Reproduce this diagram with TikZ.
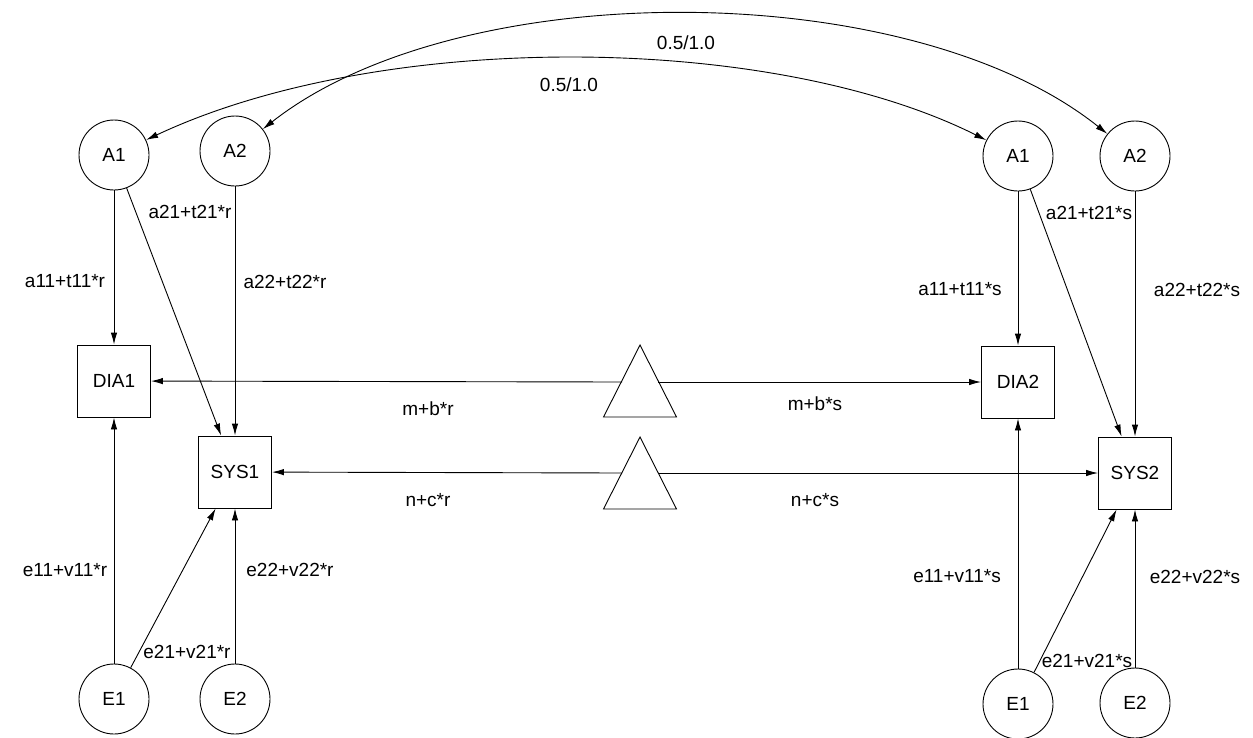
\documentclass[tikz,border=0pt]{standalone}
\usepackage{fontspec}
\setmainfont{Liberation Sans}
\usetikzlibrary{arrows.meta}
\begin{document}
\begin{tikzpicture}[x=1pt,y=-1pt,
  every node/.style={font=\fontsize{19}{21}\selectfont},
  circ/.style={circle,draw,minimum size=70pt,inner sep=0pt,line width=0.9pt},
  boxn/.style={rectangle,draw,minimum width=73pt,minimum height=72pt,inner sep=0pt,line width=0.9pt},
  con/.style={line width=0.9pt,-{Latex[length=12pt,width=6.5pt]}},
  bicon/.style={line width=0.9pt,{Latex[length=12pt,width=6.5pt]}-{Latex[length=12pt,width=6.5pt]}},
  tri/.style={line width=0.9pt,line join=miter},
  lbl/.style={inner sep=0pt}]
\useasboundingbox (0,0) rectangle (1253,737);
% left group
\node[circ] (A1L) at (114,155) {A1};
\node[circ] (A2L) at (235,151) {A2};
\node[boxn] (DIA1) at (114,381) {DIA1};
\node[boxn] (SYS1) at (235,472) {SYS1};
\node[circ] (E1L) at (114,699) {E1};
\node[circ] (E2L) at (235,699) {E2};
% right group
\node[circ] (A1R) at (1018,156) {A1};
\node[circ] (A2R) at (1135,156) {A2};
\node[boxn] (DIA2) at (1018,382) {DIA2};
\node[boxn] (SYS2) at (1135,473) {SYS2};
\node[circ] (E1R) at (1018,704) {E1};
\node[circ] (E2R) at (1135,703) {E2};
% triangles
\draw[tri] (640,345) -- (676.5,417) -- (603.5,417) -- cycle;
\draw[tri] (640,437) -- (676.5,509) -- (603.5,509) -- cycle;
\coordinate (T1l) at (622,382);
\coordinate (T1r) at (658,382);
\coordinate (T2l) at (622,473);
\coordinate (T2r) at (658,473);
% connectors
\draw[con] (A1L) -- (DIA1);
\draw[con] (A1L) -- (SYS1);
\draw[con] (A2L) -- (SYS1);
\draw[con] (E1L) -- (DIA1);
\draw[con] (E1L) -- (SYS1);
\draw[con] (E2L) -- (SYS1);
\draw[con] (A1R) -- (DIA2);
\draw[con] (A1R) -- (SYS2);
\draw[con] (A2R) -- (SYS2);
\draw[con] (E1R) -- (DIA2);
\draw[con] (E1R) -- (SYS2);
\draw[con] (E2R) -- (SYS2);
\draw[con] (T1l) -- (DIA1);
\draw[con] (T1r) -- (DIA2);
\draw[con] (T2l) -- (SYS1);
\draw[con] (T2r) -- (SYS2);
\draw[bicon] (A1L) .. controls (380,30) and (770,32) .. (A1R);
\draw[bicon] (A2L) .. controls (460,-26) and (910,-24) .. (A2R);
% labels
\node[lbl] (lk1) at (569,85) {0.5/1.0};
\node[lbl] (lk2) at (686,43) {0.5/1.0};
\node[lbl] (la11r) at (65,281) {a11+t11*r};
\node[lbl] (la21r) at (190,212) {a21+t21*r};
\node[lbl] (la22r) at (285,282) {a22+t22*r};
\node[lbl] (lmbr) at (428,409) {m+b*r};
\node[lbl] (lmbs) at (815,404) {m+b*s};
\node[lbl] (lncr) at (428,500) {n+c*r};
\node[lbl] (lncs) at (815,500) {n+c*s};
\node[lbl] (le11r) at (65,570) {e11+v11*r};
\node[lbl] (le21r) at (187,652) {e21+v21*r};
\node[lbl] (le22r) at (290,570) {e22+v22*r};
\node[lbl] (la11s) at (960,289) {a11+t11*s};
\node[lbl] (la21s) at (1089,213) {a21+t21*s};
\node[lbl] (la22s) at (1197,290) {a22+t22*s};
\node[lbl] (le11s) at (957,576) {e11+v11*s};
\node[lbl] (le21s) at (1087,661) {e21+v21*s};
\node[lbl] (le22s) at (1195,577) {e22+v22*s};
\end{tikzpicture}
\end{document}
